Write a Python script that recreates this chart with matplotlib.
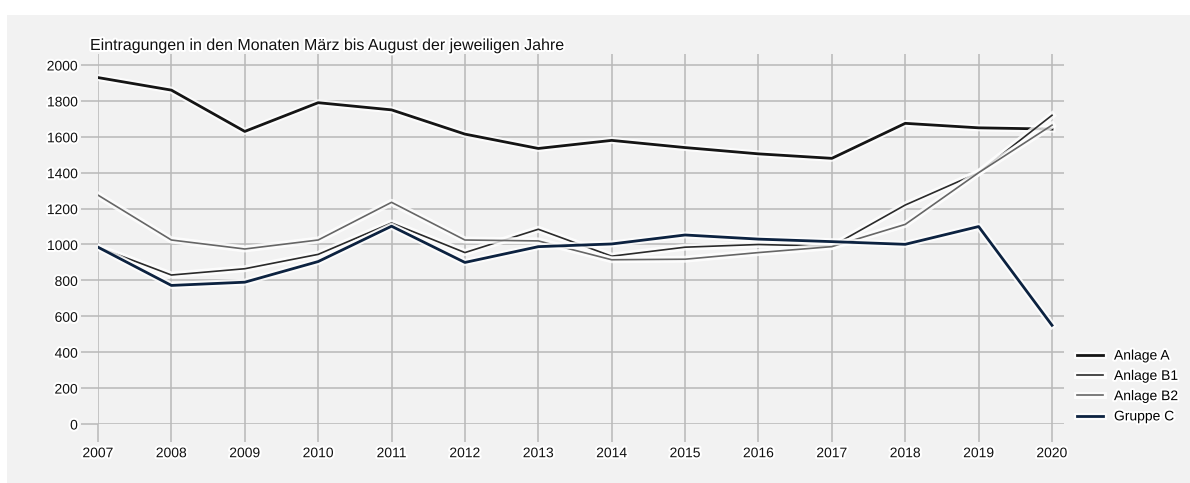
import matplotlib
matplotlib.use("Agg")
import matplotlib.pyplot as plt
import matplotlib.patheffects as pe
from matplotlib.patches import Rectangle

plt.rcParams['font.family'] = ['Liberation Sans', 'DejaVu Sans']

years = list(range(2007, 2021))
anlage_a = [1930, 1860, 1630, 1790, 1750, 1615, 1535, 1580, 1540, 1505, 1480, 1675, 1650, 1643]
anlage_b1 = [985, 830, 865, 945, 1120, 955, 1085, 935, 985, 1000, 990, 1220, 1400, 1720]
anlage_b2 = [1275, 1025, 975, 1025, 1235, 1025, 1020, 915, 918, 955, 988, 1112, 1400, 1665]
gruppe_c = [985, 772, 790, 905, 1102, 900, 988, 1003, 1053, 1030, 1016, 1001, 1100, 550]

W, H = 1190, 483
fig = plt.figure(figsize=(W / 100, H / 100), dpi=100, facecolor='white')
# grey panel behind everything
fig.patches.append(Rectangle((7 / W, 0), 1 - 7 / W, 1 - 15 / H, transform=fig.transFigure,
                             facecolor='#f2f2f2', edgecolor='none', zorder=-10))

# axes box in pixels: left 98, right 1064, top 54, bottom 424
ax = fig.add_axes([98 / W, 1 - 424 / H, (1064 - 98) / W, (424 - 54) / H])
ax.set_facecolor('none')
ax.set_xlim(2007, 2020 + 12 / 73.4)
ax.set_ylim(0, 2000 + 11 * 2000 / 359)
for s in ax.spines.values():
    s.set_visible(False)

ax.set_xticks(years)
ax.set_yticks(range(0, 2001, 200))
ax.grid(True, color='#b8b8b8', linewidth=1.1)
ax.set_axisbelow(True)
ax.tick_params(axis='y', length=12.5, width=1.1, color='#b8b8b8', pad=2, labelsize=10)
ax.tick_params(axis='x', length=13, width=1.1, color='#b8b8b8', pad=3, labelsize=10)

glow = [pe.Stroke(linewidth=5, foreground='white', alpha=0.8), pe.Normal()]
tglow = [pe.withStroke(linewidth=3, foreground='white')]

ax.plot(years, anlage_a, color='#151515', lw=2.0, label='Anlage A', path_effects=glow)
ax.plot(years, anlage_b1, color='#2a2a2a', lw=1.2, label='Anlage B1', path_effects=glow)
ax.plot(years, anlage_b2, color='#666666', lw=1.2, label='Anlage B2', path_effects=glow)
ax.plot(years, gruppe_c, color='#0c2240', lw=2.0, label='Gruppe C', path_effects=glow)

for lbl in ax.get_xticklabels() + ax.get_yticklabels():
    lbl.set_color('#111111')
    lbl.set_path_effects(tglow)

fig.text(90 / W, 1 - 50 / H, 'Eintragungen in den Monaten März bis August der jeweiligen Jahre',
         fontsize=11.5, color='#111111', ha='left', va='baseline', path_effects=tglow)

leg = ax.legend(loc='center left', bbox_to_anchor=(1064 / W, 1 - 386 / H),
                bbox_transform=fig.transFigure, frameon=False, fontsize=10,
                handlelength=1.9, handletextpad=0.8, labelspacing=0.45)
for t in leg.get_texts():
    t.set_path_effects(tglow)

fig.savefig('out.png', dpi=100, facecolor='white')
